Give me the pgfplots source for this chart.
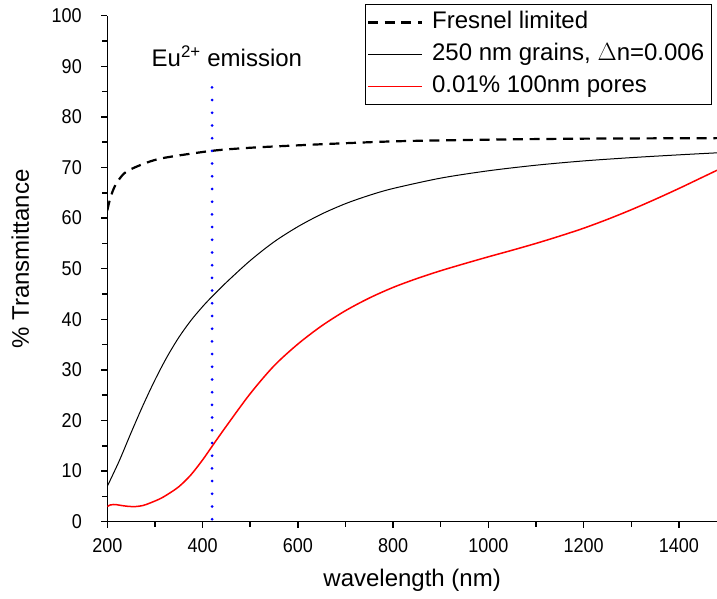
\documentclass[border=0pt]{standalone}
\usepackage{fontspec}
\setmainfont{Liberation Sans}
\newfontfamily\tickfont[FakeStretch=0.9]{Liberation Sans}
\usepackage{pgfplots}
\pgfplotsset{compat=1.18}
\begin{document}
\begin{tikzpicture}
\begin{axis}[name=ax, scale only axis, width=609.7pt, height=506pt,
  xmin=200, xmax=1480, ymin=0, ymax=100,
  axis x line*=bottom, axis y line*=left,
  axis line style={line width=1.5pt},
  every tick/.style={black, line width=1.5pt},
  tick align=outside, major tick length=6pt, minor tick length=5pt,
  xtick={200,400,...,1400}, minor x tick num=1,
  ytick={0,10,...,100}, minor y tick num=1,
  /pgf/number format/assume math mode=true,
  /pgf/number format/1000 sep={},
  tick label style={font=\fontsize{20}{24}\selectfont\tickfont},
  xticklabel style={yshift=-7pt},
  yticklabel style={xshift=-16pt},
  xlabel={wavelength (nm)}, ylabel={\% Transmittance},
  label style={font=\fontsize{24}{28}\selectfont},
  xlabel style={at={(rel axis cs:0.5,0)}, anchor=base, yshift=-65pt},
  ylabel style={at={(rel axis cs:0,0.519)}, anchor=center, yshift=87pt},
  legend style={at={(rel axis cs:0.9913,1.0231)}, anchor=north east,
    draw=black, line width=1pt, font=\fontsize{24}{28}\selectfont,
    inner xsep=1pt, inner ysep=2pt,
    nodes={inner xsep=6pt, inner ysep=5pt, text height=17pt, text depth=5pt},
    /tikz/every odd column/.append style={column sep=3pt},
    /tikz/every even column/.append style={column sep=0pt}},
  legend cell align=left,
  legend image code/.code={\draw[#1] (0pt,0pt) -- (54pt,0pt);},
]
\addplot[draw=black, line width=2.2pt, dash pattern=on 10pt off 6.7pt, smooth] coordinates {
(200,61.5) (205,63.5) (212,65.5) (220,67) (235,68.8) (255,69.9) (290,71.2) (325,72.0)
(420,73.3) (500,73.9) (605,74.4) (700,74.8) (815,75.2) (1000,75.5) (1200,75.7) (1480,75.8)};
\addlegendentry{Fresnel limited}
\addplot[draw=black, line width=1pt, smooth] coordinates {
(200,7.0) (225,12.0) (250,17.6) (275,23.0) (300,28.0) (325,32.5) (350,36.4) (375,39.7)
(400,42.5) (420,44.5) (450,47.3) (500,51.6) (550,55.3) (600,58.3) (650,60.8) (700,62.85)
(750,64.5) (800,65.85) (900,67.9) (1000,69.35) (1100,70.45) (1200,71.3) (1300,71.95)
(1400,72.5) (1480,72.9)};
\addlegendentry{250 nm grains, $\Delta$n=0.006}
\addplot[draw=red, line width=1.5pt, smooth] coordinates {
(200,3.0) (206,3.3) (213,3.4) (220,3.35) (230,3.2) (245,3.02) (260,3.0) (275,3.2) (290,3.7)
(310,4.5) (325,5.3) (350,6.9) (375,9.2) (400,12.2) (420,14.9) (450,18.9) (500,25.3)
(550,30.8) (600,35.1) (650,38.7) (700,41.7) (750,44.2) (800,46.3) (850,48.05) (900,49.6)
(950,51.0) (1000,52.35) (1050,53.65) (1100,55.0) (1150,56.45) (1200,58.0) (1250,59.75)
(1300,61.65) (1350,63.7) (1400,65.85) (1450,68.1) (1480,69.45)};
\addlegendentry{0.01\% 100nm pores}
\addplot[draw=blue, line width=3pt, line cap=round, dash pattern=on 0pt off 12.7pt, forget plot]
  coordinates {(420,0.5) (420,86)};
\node[anchor=base, font=\fontsize{24}{28}\selectfont] at (axis cs:451,90) {Eu\textsuperscript{2+} emission};
\end{axis}
\pgfresetboundingbox
\path[use as bounding box] ([shift={(-107.3pt,-77.3pt)}]ax.south west) rectangle ([shift={(0pt,15.7pt)}]ax.north east);
\end{tikzpicture}
\end{document}
